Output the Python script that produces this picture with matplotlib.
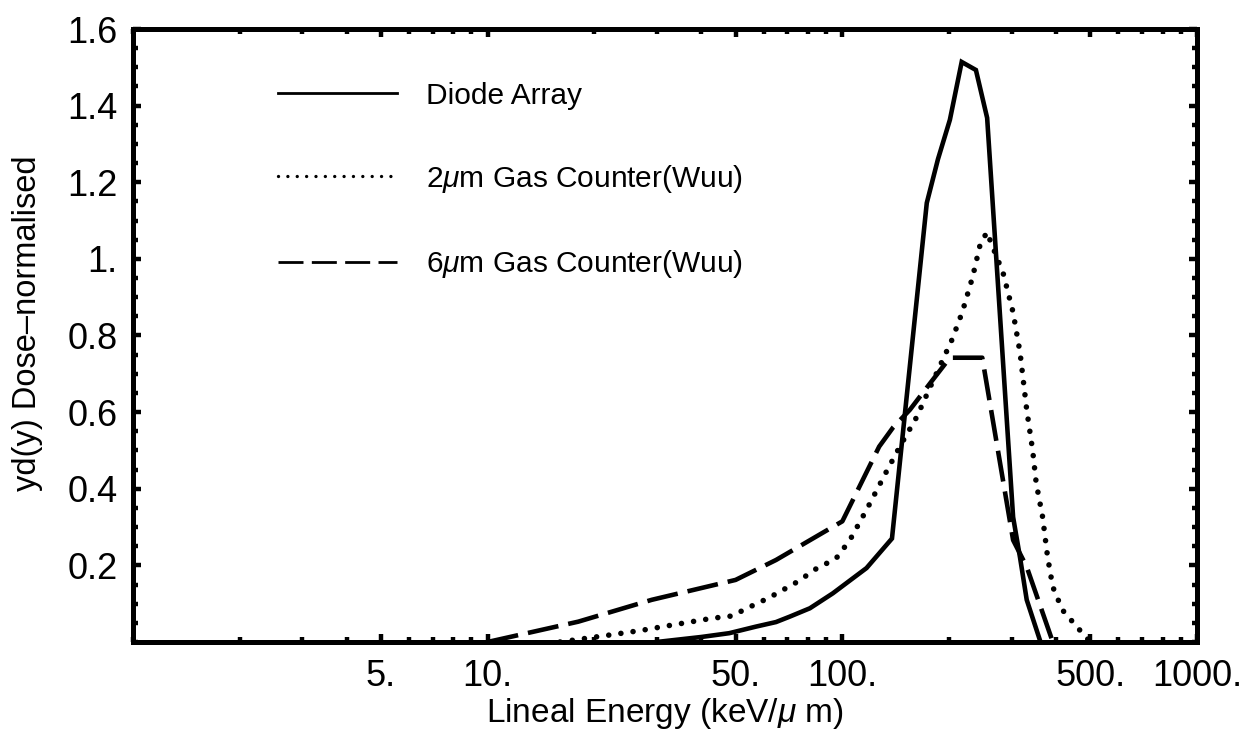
import matplotlib
matplotlib.use('Agg')
import matplotlib.pyplot as plt
from matplotlib.lines import Line2D
from matplotlib.ticker import FixedLocator, FixedFormatter, LogLocator, NullFormatter, MultipleLocator

plt.rcParams['font.family'] = ['Liberation Sans', 'DejaVu Sans']
plt.rcParams['mathtext.fontset'] = 'custom'
plt.rcParams['mathtext.rm'] = 'Liberation Sans'
plt.rcParams['mathtext.it'] = 'Liberation Sans:italic'

# Diode array (solid)
diode_x = [30, 40, 48, 57, 65, 71, 81, 94, 117, 138, 173, 186, 201, 217, 238, 256, 303, 317, 331, 362]
diode_y = [0.0, 0.013, 0.023, 0.04, 0.052, 0.066, 0.088, 0.127, 0.193, 0.27, 1.146, 1.26, 1.363,
           1.514, 1.493, 1.368, 0.326, 0.22, 0.11, 0.0]

# 2 um gas counter (dotted)
gas2_x = [16, 22, 27, 33, 43, 49, 53, 62, 75, 84, 96, 105, 117, 133, 145, 162, 178, 204, 218, 233,
          245, 256, 262, 284, 303, 317, 331, 344, 352, 367, 379, 392, 417, 458, 500]
gas2_y = [0.0, 0.018, 0.03, 0.044, 0.062, 0.068, 0.085, 0.115, 0.158, 0.19, 0.218, 0.266, 0.345,
          0.444, 0.509, 0.587, 0.671, 0.79, 0.862, 0.953, 1.04, 1.07, 1.044, 0.963, 0.86, 0.755,
          0.606, 0.5, 0.415, 0.326, 0.222, 0.144, 0.084, 0.04, 0.0]

# 6 um gas counter (dashed)
gas6_x = [10, 18, 29, 50, 65, 100, 127, 139, 155, 177, 201, 248, 303, 331, 392]
gas6_y = [0.0, 0.053, 0.11, 0.162, 0.214, 0.315, 0.51, 0.56, 0.606, 0.676, 0.742, 0.742, 0.266, 0.196, 0.0]

xticks = [5, 10, 50, 100, 500, 1000]
xticklabels = ['5.', '10.', '50.', '100.', '500.', '1000.']
yticks = [0.2, 0.4, 0.6, 0.8, 1.0, 1.2, 1.4, 1.6]
yticklabels = ['0.2', '0.4', '0.6', '0.8', '1.', '1.2', '1.4', '1.6']

labels = ['Diode Array', r'2$\mathit{\mu}$m Gas Counter(Wuu)', r'6$\mathit{\mu}$m Gas Counter(Wuu)']

fig = plt.figure(figsize=(12.55, 7.42), dpi=100)
ax = fig.add_axes([0.106, 0.1348, 0.8478, 0.8261])

ax.plot(diode_x, diode_y, color='black', lw=3.3, solid_joinstyle='miter')
ax.plot(gas2_x, gas2_y, color='black', lw=4.0, linestyle=(0, (0.01, 2.2)), dash_capstyle='round')
ax.plot(gas6_x, gas6_y, color='black', lw=3.3, linestyle=(0, (6.8, 2.2)))

ax.set_xscale('log')
ax.set_xlim(1, 1000)
ax.set_ylim(0, 1.6)

ax.xaxis.set_major_locator(FixedLocator(xticks))
ax.xaxis.set_major_formatter(FixedFormatter(xticklabels))
ax.xaxis.set_minor_locator(LogLocator(base=10, subs=range(1, 10)))
ax.xaxis.set_minor_formatter(NullFormatter())
ax.yaxis.set_major_locator(FixedLocator(yticks))
ax.yaxis.set_major_formatter(FixedFormatter(yticklabels))
ax.yaxis.set_minor_locator(MultipleLocator(0.05))

for s in ax.spines.values():
    s.set_linewidth(3.6)
ax.tick_params(which='both', direction='in', top=True, right=True, width=3.2, color='black')
ax.tick_params(which='major', length=5.5, labelsize=26)
ax.tick_params(which='minor', length=3.5)
ax.tick_params(axis='x', which='major', pad=12)
ax.tick_params(axis='y', which='major', pad=11)

ax.set_xlabel(r'Lineal Energy (keV/$\mathit{\mu}$ m)', fontsize=24, labelpad=2)
ax.set_ylabel('yd(y) Dose–normalised', fontsize=23.5)
ax.yaxis.set_label_coords(-0.085, 0.52)

handles = [Line2D([], [], color='black', lw=2.0),
           Line2D([], [], color='black', lw=2.4, linestyle=(0, (0.01, 2.8)), dash_capstyle='round'),
           Line2D([], [], color='black', lw=2.0, linestyle=(0, (9, 3)))]
ax.legend(handles, labels, loc='upper left', bbox_to_anchor=(0.136, 0.914), frameon=False,
          fontsize=21.5, handlelength=4.0, handletextpad=0.95, labelspacing=1.78, borderpad=0,
          borderaxespad=0)

fig.savefig('out.png', dpi=100)
